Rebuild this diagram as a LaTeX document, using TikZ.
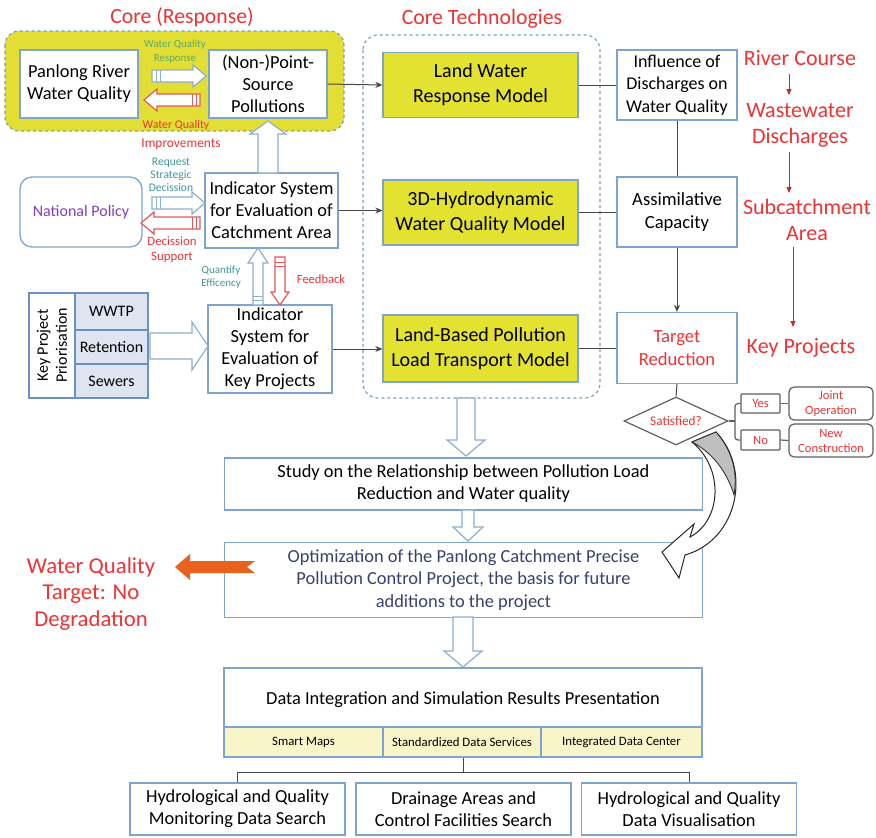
\documentclass[tikz,border=0pt]{standalone}
\usepackage{fontspec}
\setmainfont{Carlito}
\usetikzlibrary{shapes.geometric,arrows.meta,calc}
\definecolor{bxc}{RGB}{125,165,205}
\definecolor{ylw}{RGB}{228,226,48}
\definecolor{ylwbg}{RGB}{226,222,52}
\definecolor{redt}{RGB}{236,52,52}
\definecolor{greent}{RGB}{95,170,95}
\definecolor{tealt}{RGB}{70,150,150}
\definecolor{purp}{RGB}{135,60,190}
\definecolor{lnc}{RGB}{70,70,70}
\definecolor{cellc}{RGB}{248,245,200}
\definecolor{tabc}{RGB}{222,229,240}
\definecolor{tabb}{RGB}{105,145,195}
\definecolor{dashc}{RGB}{120,160,190}
\definecolor{harb}{RGB}{140,175,210}
\definecolor{harr}{RGB}{225,90,90}
\definecolor{orng}{RGB}{232,98,30}
\definecolor{optc}{RGB}{55,65,110}
\definecolor{dred}{RGB}{200,40,40}
\definecolor{grayb}{RGB}{95,95,95}
\newcommand\myfs[2]{\fontsize{#1}{#2}\selectfont}
% hollow block arrows: #1 axis pos, #2 tail, #3 tip, #4 shaft half, #5 head half, #6 head len, #7 colour
\newcommand\harrD[7]{\draw[#7,fill=white,line width=1.2pt] ({#1-#4},#2) -- ({#1-#4},{#3-#6}) -- ({#1-#5},{#3-#6}) -- (#1,#3) -- ({#1+#5},{#3-#6}) -- ({#1+#4},{#3-#6}) -- ({#1+#4},#2) -- cycle;}
\newcommand\harrU[7]{\draw[#7,fill=white,line width=1.2pt] ({#1-#4},#2) -- ({#1-#4},{#3+#6}) -- ({#1-#5},{#3+#6}) -- (#1,#3) -- ({#1+#5},{#3+#6}) -- ({#1+#4},{#3+#6}) -- ({#1+#4},#2) -- cycle;}
\newcommand\harrR[7]{\draw[#7,fill=white,line width=1.2pt] (#2,{#1-#4}) -- ({#3-#6},{#1-#4}) -- ({#3-#6},{#1-#5}) -- (#3,#1) -- ({#3-#6},{#1+#5}) -- ({#3-#6},{#1+#4}) -- (#2,{#1+#4}) -- cycle;}
\newcommand\harrL[7]{\draw[#7,fill=white,line width=1.2pt] (#2,{#1-#4}) -- ({#3+#6},{#1-#4}) -- ({#3+#6},{#1-#5}) -- (#3,#1) -- ({#3+#6},{#1+#5}) -- ({#3+#6},{#1+#4}) -- (#2,{#1+#4}) -- cycle;}
\tikzset{
  bx/.style={draw=bxc,line width=1.3pt,fill=white,align=center,inner sep=2pt,font=\myfs{18.4}{22}},
  ybx/.style={bx,fill=ylw,font=\myfs{20}{25}},
  conn/.style={draw=lnc,line width=1pt},
  arr/.style={conn,-{Stealth[length=7pt,width=6pt]}},
  redarr/.style={draw=dred,line width=1pt,-{Triangle[length=6pt,width=5pt]}},
  gbx/.style={draw=grayb,line width=1.2pt,fill=white,rounded corners=3pt,align=center,text=redt,font=\myfs{12.6}{15}},
  lbl/.style={align=center,inner sep=0pt},
  tcell/.style={draw=tabb,line width=1.4pt,fill=tabc,font=\myfs{16}{19},inner sep=0pt},
  dcell/.style={draw=bxc,line width=1.3pt,fill=cellc,font=\myfs{12.8}{15},inner sep=0pt},
}
\begin{document}
\begin{tikzpicture}[x=1pt,y=-1pt]
\useasboundingbox (0,0) rectangle (876,838);
\fill[white] (0,0) rectangle (876,838);

% ---------- Core (Response) ----------
\node[lbl,text=redt,font=\myfs{21.7}{26}] (tcore) at (182,17) {Core (Response)};
\draw[dashc,dashed,line width=1.2pt,fill=ylwbg,rounded corners=14pt] (5,31) rectangle (344,131);
\node[bx,minimum width=118pt,minimum height=68pt] (prw) at (79,84) {Panlong River\\Water Quality};
\node[bx,minimum width=118pt,minimum height=68pt] (nps) at (268,84) {(Non-)Point-\\Source\\Pollutions};
\harrR{76}{152}{206}{6}{11}{13}{harb}
\draw[harb,line width=1pt] (156,70) -- (156,82) (160,70) -- (160,82);
\harrL{100}{200}{144}{6}{11}{13}{harr}
\draw[harr,line width=1pt] (196,94) -- (196,106) (192,94) -- (192,106);
\node[lbl,text=greent,font=\myfs{10.9}{14}] (lwqr) at (175,52) {Water Quality\\Response};
\node[lbl,text=redt,font=\myfs{11.8}{13}] (lwqi1) at (176,125) {Water Quality};
\node[lbl,text=redt,font=\myfs{13.4}{15}] (lwqi2) at (181,144) {Improvements};

% ---------- Core Technologies ----------
\node[lbl,text=redt,font=\myfs{21.8}{26}] (ttech) at (482,19) {Core Technologies};
\draw[dashc,dashed,line width=1.2pt,rounded corners=15pt] (363,35) rectangle (600,398);
\node[ybx,minimum width=195pt,minimum height=65pt] (lwr) at (480.5,85) {Land Water\\Response Model};
\node[ybx,minimum width=195pt,minimum height=65pt] (hyd) at (480.5,212.5) {3D-Hydrodynamic\\Water Quality Model};
\node[ybx,minimum width=195pt,minimum height=67pt] (lbp) at (480.5,348.5) {Land-Based Pollution\\Load Transport Model};

% ---------- right column ----------
\node[bx,minimum width=120pt,minimum height=70pt,font=\myfs{18}{22.5}] (infl) at (677,85) {Influence of\\Discharges on\\Water Quality};
\node[bx,minimum width=120pt,minimum height=70pt,font=\myfs{18.6}{23}] (assim) at (677,212) {Assimilative\\Capacity};
\node[bx,minimum width=120pt,minimum height=71pt,font=\myfs{18.6}{23},text=redt] (target) at (677,348) {Target\\Reduction};

\node[lbl,text=redt,font=\myfs{22}{26}] (rc) at (800,58) {River Course};
\node[lbl,text=redt,font=\myfs{22}{26}] (wd) at (800,125) {Wastewater\\Discharges};
\node[lbl,text=redt,font=\myfs{22}{26}] (sa) at (807,220) {Subcatchment\\Area};
\node[lbl,text=redt,font=\myfs{22}{26}] (kp) at (801,348) {Key Projects};
\coordinate (ra1) at (789,74); \coordinate (ra1e) at (789,95);
\coordinate (ra2) at (789,152); \coordinate (ra2e) at (789,193);
\coordinate (ra3) at (793,247); \coordinate (ra3e) at (793,327);
\draw[redarr] (ra1) -- (ra1e);
\draw[redarr] (ra2) -- (ra2e);
\draw[redarr] (ra3) -- (ra3e);

% ---------- left middle ----------
\node[bx,rounded corners=12pt,minimum width=122pt,minimum height=70pt,text=purp,font=\myfs{16}{19}] (pol) at (81,212) {National Policy};
\node[bx,minimum width=133pt,minimum height=75pt] (indc) at (271.5,210.5) {Indicator System\\for Evaluation of\\Catchment Area};
\harrR{203}{152}{205}{6}{11}{13}{harb}
\draw[harb,line width=1pt] (156,197) -- (156,209) (160,197) -- (160,209);
\harrL{223}{200}{141}{6}{11}{13}{harr}
\draw[harr,line width=1pt] (196,217) -- (196,229) (192,217) -- (192,229);
\node[lbl,text=tealt,font=\myfs{11.6}{13}] (lreq) at (171,175) {Request\\Strategic\\Decission};
\node[lbl,text=redt,font=\myfs{12.8}{15}] (ldec) at (172,250) {Decission\\Support};
\harrU{268}{173}{121}{10}{18}{13}{harb}

% ---------- key projects ----------
\node[draw=tabb,line width=1.4pt,fill=white,minimum width=46pt,minimum height=105pt,inner sep=0pt] (tabl) at (52,345.5) {};
\node[lbl,rotate=90,font=\myfs{16}{19}] (tabt) at (tabl.center) {Key Project\\Priorisation};
\node[tcell,minimum width=73pt,minimum height=37pt] (wwtp) at (111.5,311.5) {WWTP};
\node[tcell,minimum width=73pt,minimum height=34pt] (ret) at (111.5,347) {Retention};
\node[tcell,minimum width=73pt,minimum height=34pt] (sew) at (111.5,381) {Sewers};
\node[bx,minimum width=124pt,minimum height=88pt] (indk) at (270,349) {Indicator\\System for\\Evaluation of\\Key Projects};
\harrR{346}{150}{208}{13}{24}{16}{harb}
\harrU{258}{305}{248}{5}{10}{15}{harb}
\draw[harb,line width=1pt] (253,296) -- (263,296) (253,300) -- (263,300);
\harrD{280}{257}{305}{5}{9}{13}{harr}
\draw[harr,line width=1pt] (275,262) -- (285,262) (275,266) -- (285,266);
\node[lbl,text=tealt,font=\myfs{11}{13}] (lqe) at (221,277) {Quantify\\Efficency};
\node[lbl,text=redt,font=\myfs{12.5}{14}] (lfb) at (321,279) {Feedback};

% ---------- connectors ----------
\draw[arr] (nps.east) -- (lwr.west);
\draw[conn] (lwr.east) -- (infl.west);
\draw[arr] (indc.east) -- (indc.east -| hyd.west);
\draw[conn] (hyd.east) -- (hyd.east -| assim.west);
\draw[arr] (indk.east) -- (indk.east -| lbp.west);
\draw[conn] (lbp.east) -- (lbp.east -| target.west);
\draw[conn] (infl.south) -- (assim.north);
\draw[arr] (assim.south) -- (target.north);

% ---------- decision ----------
\node[diamond,draw=grayb,line width=1.2pt,fill=white,minimum width=104pt,minimum height=48pt,inner sep=0pt,aspect=2.2,text=redt,font=\myfs{13.3}{15}] (sat) at (676,421) {Satisfied?};
\draw[conn] (target.south) -- (sat.north);
\node[gbx,rounded corners=1pt,minimum width=39pt,minimum height=19pt,inner sep=0pt] (yes) at (760.5,403.5) {Yes};
\node[gbx,rounded corners=1pt,minimum width=39pt,minimum height=20pt,inner sep=0pt] (no) at (760.5,440) {No};
\node[gbx,rounded corners=5pt,minimum width=84pt,minimum height=33pt,inner sep=0pt] (joint) at (831,403.5) {Joint\\Operation};
\node[gbx,rounded corners=5pt,minimum width=84pt,minimum height=33pt,inner sep=0pt] (newc) at (831,440.5) {New\\Construction};
\coordinate (brk) at (735,421);
\draw[draw=grayb,line width=1.2pt] (sat.east) -- (brk);
\draw[draw=grayb,line width=1.2pt,rounded corners=3pt] (yes.west) -| (brk) |- (no.west);
\draw[draw=grayb,line width=1.2pt] (yes.east) -- (joint.west);
\draw[draw=grayb,line width=1.2pt] (no.east) -- (newc.west);

% ---------- lower chain ----------
\node[bx,minimum width=478pt,minimum height=52pt] (study) at (463.5,484) {Study on the Relationship between Pollution Load\\Reduction and Water quality};
\node[bx,minimum width=478pt,minimum height=75pt,font=\myfs{18.4}{22.5},text=optc] (opt) at (463.5,580) {Optimization of the Panlong Catchment Precise\\Pollution Control Project, the basis for future\\additions to the project};
\harrD{466}{398}{456}{9}{19}{16}{harb}
\harrD{468}{510}{541}{6}{15}{14}{harb}
\harrD{463}{617}{667}{10}{19}{16}{harb}

% orange arrow
\fill[orng] (175,567) -- (190,554) -- (190,561) -- (255,561) -- (247,567) -- (255,573) -- (190,573) -- (190,580) -- cycle;
\node[lbl,text=redt,font=\myfs{22.7}{26.5}] (wqt) at (91,594) {Water Quality\\Target: No\\Degradation};

% curved arrow
\filldraw[draw=black!85,fill=white,line width=1pt] (692,442) -- (716,432) .. controls (752,470) and (738,540) .. (685,555) -- (679,578) -- (662,552) -- (694,524) -- (690,537) .. controls (722,520) and (724,468) .. (692,442) -- cycle;
\filldraw[draw=black!85,fill=black!25,line width=0.8pt] (692,442) -- (716,432) .. controls (732,450) and (738,472) .. (734,495) .. controls (727,472) and (713,453) .. (692,442) -- cycle;

% ---------- data integration ----------
\node[bx,minimum width=478pt,minimum height=89pt] (dat) at (463,712.5) {};
\node[lbl,font=\myfs{18.4}{22}] (dattxt) at (463,700) {Data Integration and Simulation Results Presentation};
\node[dcell,minimum width=159pt,minimum height=30pt] (c1) at (303.5,742) {Smart Maps};
\node[dcell,minimum width=158pt,minimum height=30pt] (c2) at (462,742) {Standardized Data Services};
\node[dcell,minimum width=161pt,minimum height=30pt] (c3) at (621.5,742) {Integrated Data Center};

\node[bx,minimum width=215pt,minimum height=52pt] (b1) at (237.5,809) {Hydrological and Quality\\Monitoring Data Search};
\node[bx,minimum width=215pt,minimum height=52pt] (b2) at (463.5,809) {Drainage Areas and\\Control Facilities Search};
\node[bx,minimum width=215pt,minimum height=52pt] (b3) at (689,809) {Hydrological and Quality\\Data Visualisation};
\coordinate (tj) at (463,773);
\draw[conn] (dat.south) -- (tj);
\draw[conn] (b1.north) -- ++(0,-10) -| (b3.north);
\end{tikzpicture}
\end{document}
